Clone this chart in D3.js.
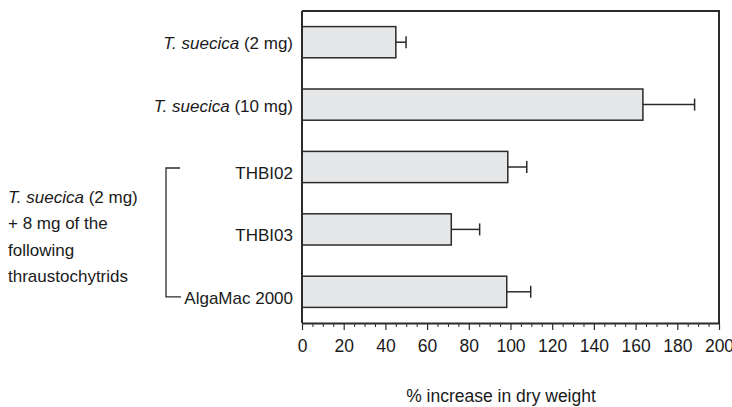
<!DOCTYPE html>
<html>
<head>
<meta charset="utf-8">
<script src="https://cdn.jsdelivr.net/npm/d3@7"></script>
<style>
  html, body { margin: 0; padding: 0; background: #fff; }
  svg { display: block; font-family: "Liberation Sans", Arial, sans-serif; }
</style>
</head>
<body>
<svg id="chart" width="732" height="407"></svg>
<script>
// Treatments, from top to bottom
const categories = ["ts2", "ts10", "THBI02", "THBI03", "AlgaMac 2000"];
const speciesPart = ["T. suecica", "T. suecica", "", "", ""];
const restPart = [" (2 mg)", " (10 mg)", "THBI02", "THBI03", "AlgaMac 2000"];
// Mean % increase in dry weight and its error
const means = [45, 163.5, 98.7, 71.6, 98.2];
const errors = [4.9, 24.8, 9.1, 13.6, 11.5];
// Index of the treatments that belong to the bracketed group
const grouped = [2, 3, 4];
const groupLines = [
  [["T. suecica", true], [" (2 mg)", false]],
  [["+ 8 mg of the", false]],
  [["following", false]],
  [["thraustochytrids", false]]
];
const majorTicks = [0, 20, 40, 60, 80, 100, 120, 140, 160, 180, 200];
const axisTitle = "% increase in dry weight";

const ink = "#2b2b2b";
const svg = d3.select("#chart");
const m = { left: 302, right: 13, top: 11, bottom: 84 };
const W = 732, H = 407;
const pw = W - m.left - m.right, ph = H - m.top - m.bottom;

const x = d3.scaleLinear().domain([0, 200]).range([0, pw]);
const y = d3.scaleBand().domain(categories).range([0, ph]).paddingInner(0.5).paddingOuter(0.25);

const g = svg.append("g").attr("transform", `translate(${m.left},${m.top})`);

// Bars
g.selectAll("rect.bar").data(categories).join("rect")
  .attr("class", "bar")
  .attr("x", 0)
  .attr("y", c => y(c))
  .attr("width", (c, i) => x(means[i]))
  .attr("height", y.bandwidth())
  .attr("fill", "#e6e7e8")
  .attr("stroke", ink)
  .attr("stroke-width", 1.5);

// Error bars (upper side only)
const capH = 12;
categories.forEach((c, i) => {
  const cy = y(c) + y.bandwidth() / 2;
  g.append("line")
    .attr("x1", x(means[i])).attr("x2", x(means[i] + errors[i]))
    .attr("y1", cy).attr("y2", cy)
    .attr("stroke", ink).attr("stroke-width", 1.5);
  g.append("line")
    .attr("x1", x(means[i] + errors[i])).attr("x2", x(means[i] + errors[i]))
    .attr("y1", cy - capH / 2).attr("y2", cy + capH / 2)
    .attr("stroke", ink).attr("stroke-width", 1.5);
});

// Frame: top and right edges
g.append("path")
  .attr("d", `M0,0H${pw}V${ph}`)
  .attr("fill", "none").attr("stroke", ink).attr("stroke-width", 2);
// Left edge
g.append("line").attr("x1", 0).attr("x2", 0).attr("y1", 0).attr("y2", ph)
  .attr("stroke", ink).attr("stroke-width", 2);

// Bottom axis with minor ticks every 5
const minorTicks = d3.range(0, 201, 5).filter(v => v % 20 !== 0);
const minorAxis = d3.axisBottom(x).tickValues(minorTicks).tickSize(4).tickFormat("");
const gMinor = g.append("g").attr("transform", `translate(0,${ph})`).call(minorAxis);
gMinor.select(".domain").remove();
gMinor.selectAll("line").attr("stroke", ink).attr("stroke-width", 1);

const majorAxis = d3.axisBottom(x).tickValues(majorTicks).tickSize(7).tickSizeOuter(0).tickPadding(10);
const gMajor = g.append("g").attr("transform", `translate(0,${ph})`).call(majorAxis);
gMajor.select(".domain").attr("stroke", ink).attr("stroke-width", 2);
gMajor.selectAll("line").attr("stroke", ink).attr("stroke-width", 1.2);
gMajor.selectAll("text")
  .attr("fill", "#1a1a1a")
  .style("font-size", "17.5px")
  .style("font-family", "'Liberation Sans', Arial, sans-serif");

// Category labels
const labelSize = 17;
categories.forEach((c, i) => {
  const cy = y(c) + y.bandwidth() / 2 + (grouped.includes(i) ? 6 : 1);
  const t = g.append("text")
    .attr("x", -9).attr("y", cy).attr("dy", "0.35em")
    .attr("text-anchor", "end")
    .attr("fill", "#1a1a1a")
    .style("font-size", labelSize + "px");
  if (speciesPart[i]) t.append("tspan").style("font-style", "italic").text(speciesPart[i]);
  t.append("tspan").text(restPart[i]);
});

// Bracket for the grouped treatments
const topY = m.top + y(categories[grouped[0]]) + y.bandwidth() / 2 + 1;
const botY = m.top + y(categories[grouped[grouped.length - 1]]) + y.bandwidth() / 2 + 5;
svg.append("path")
  .attr("d", `M180,${topY}H166V${botY}H181`)
  .attr("fill", "none").attr("stroke", ink).attr("stroke-width", 1.3);

// Group description
const gx = 8, gy0 = 203, lineStep = 26.3;
groupLines.forEach((parts, k) => {
  const t = svg.append("text")
    .attr("x", gx).attr("y", gy0 + k * lineStep)
    .attr("fill", "#1a1a1a")
    .style("font-size", labelSize + "px");
  parts.forEach(([s, it]) => t.append("tspan").style("font-style", it ? "italic" : "normal").text(s));
});

// Axis title
svg.append("text")
  .attr("x", 501).attr("y", 402)
  .attr("text-anchor", "middle")
  .attr("fill", "#1a1a1a")
  .style("font-size", "17.5px")
  .text(axisTitle);
</script>
</body>
</html>
